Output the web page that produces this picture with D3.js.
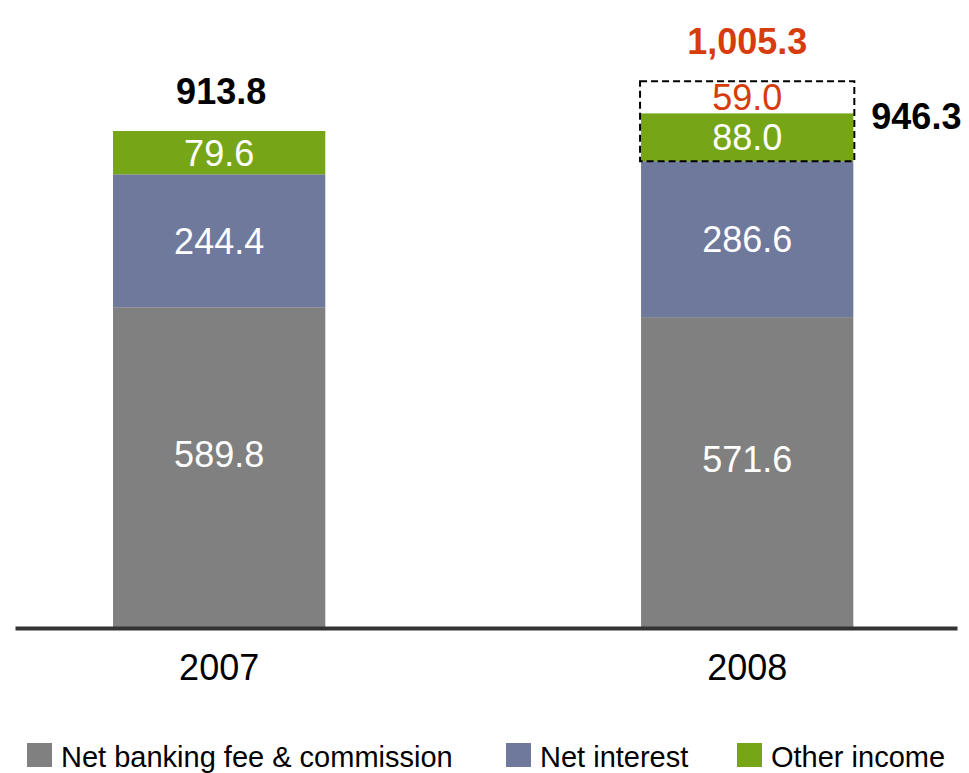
<!DOCTYPE html>
<html>
<head>
<meta charset="utf-8">
<script src="https://cdn.jsdelivr.net/npm/d3@7"></script>
<style>
  html, body { margin: 0; padding: 0; background: #fff; }
  svg { display: block; font-family: "Liberation Sans", Arial, sans-serif; }
</style>
</head>
<body>
<svg id="chart" width="969" height="773"></svg>
<script>
// Income breakdown by year
const years = ["2007", "2008"];
const seriesNames = ["Net banking fee & commission", "Net interest", "Other income"];
const feeCommission = [589.8, 571.6];
const netInterest = [244.4, 286.6];
const otherIncome = [79.6, 88.0];
const totals = [913.8, 946.3];
// extra amount shown on top of the 2008 bar and the resulting adjusted total
const adjustment2008 = 59.0;
const adjustedTotal2008 = 1005.3;

const colors = ["#808080", "#6f799c", "#76a617"];
const accent = "#d63c0c";

const svg = d3.select("#chart");

const x = d3.scaleBand()
  .domain(years)
  .range([15, 957])
  .paddingInner(0.598)
  .paddingOuter(0.191)
  .align(0.486);

const y = d3.scaleLinear()
  .domain([0, 913.8])
  .range([628, 131]);

const rows = years.map((yr, i) => ({
  year: yr,
  [seriesNames[0]]: feeCommission[i],
  [seriesNames[1]]: netInterest[i],
  [seriesNames[2]]: otherIncome[i]
}));

const stacked = d3.stack().keys(seriesNames)(rows);

const fmt = d3.format(",.1f");

// stacked segments
const layers = svg.append("g").selectAll("g")
  .data(stacked)
  .join("g")
  .attr("fill", (d, i) => colors[i]);

layers.selectAll("rect")
  .data(d => d)
  .join("rect")
  .attr("x", d => x(d.data.year))
  .attr("width", x.bandwidth())
  .attr("y", d => y(d[1]))
  .attr("height", d => y(d[0]) - y(d[1]));

// segment value labels
const labelShift = [-14, 0, 0];
stacked.forEach((layer, si) => {
  svg.append("g").selectAll("text")
    .data(layer)
    .join("text")
    .attr("x", d => x(d.data.year) + x.bandwidth() / 2)
    .attr("y", d => (y(d[0]) + y(d[1])) / 2 + labelShift[si])
    .attr("dy", "0.36em")
    .attr("text-anchor", "middle")
    .attr("fill", "#fff")
    .attr("font-size", 36)
    .text(d => fmt(d[1] - d[0]));
});

// 2008 adjustment: dashed outline around other income plus the extra amount
const i08 = 1;
const base08 = feeCommission[i08] + netInterest[i08];
const bx = x(years[i08]);
svg.append("rect")
  .attr("x", bx - 1)
  .attr("width", x.bandwidth() + 2)
  .attr("y", y(adjustedTotal2008))
  .attr("height", y(base08) - y(adjustedTotal2008))
  .attr("fill", "none")
  .attr("stroke", "#000")
  .attr("stroke-width", 2)
  .attr("stroke-dasharray", "7,4");

svg.append("text")
  .attr("x", bx + x.bandwidth() / 2)
  .attr("y", (y(totals[i08]) + y(adjustedTotal2008)) / 2)
  .attr("dy", "0.36em")
  .attr("text-anchor", "middle")
  .attr("fill", accent)
  .attr("font-size", 36)
  .text(fmt(adjustment2008));

svg.append("text")
  .attr("x", bx + x.bandwidth() / 2)
  .attr("y", y(adjustedTotal2008) - 27)
  .attr("text-anchor", "middle")
  .attr("fill", accent)
  .attr("font-size", 36)
  .attr("font-weight", "bold")
  .text(fmt(adjustedTotal2008));

// totals
svg.append("text")
  .attr("x", x(years[0]) + x.bandwidth() / 2 + 2)
  .attr("y", y(totals[0]) - 27)
  .attr("text-anchor", "middle")
  .attr("fill", "#000")
  .attr("font-size", 36)
  .attr("font-weight", "bold")
  .text(fmt(totals[0]));

svg.append("text")
  .attr("x", bx + x.bandwidth() + 18)
  .attr("y", y(totals[i08]) + 3)
  .attr("dy", "0.36em")
  .attr("text-anchor", "start")
  .attr("fill", "#000")
  .attr("font-size", 36)
  .attr("font-weight", "bold")
  .text(fmt(totals[i08]));

// category axis
const axis = svg.append("g")
  .attr("transform", `translate(0,${y(0)})`)
  .call(d3.axisBottom(x).tickSize(0).tickPadding(26));
axis.select(".domain").attr("stroke", "#333").attr("stroke-width", 4);
axis.selectAll(".tick text")
  .attr("font-size", 36)
  .attr("font-family", "\"Liberation Sans\", Arial, sans-serif")
  .attr("fill", "#000");

// legend
const legendX = [27, 506, 737];
const legend = svg.append("g").selectAll("g")
  .data(seriesNames)
  .join("g")
  .attr("transform", (d, i) => `translate(${legendX[i]},743)`);
legend.append("rect")
  .attr("width", 25)
  .attr("height", 24)
  .attr("fill", (d, i) => colors[i]);
legend.append("text")
  .attr("x", 34)
  .attr("y", 24)
  .attr("font-size", 29)
  .attr("fill", "#000")
  .text(d => d);
</script>
</body>
</html>
